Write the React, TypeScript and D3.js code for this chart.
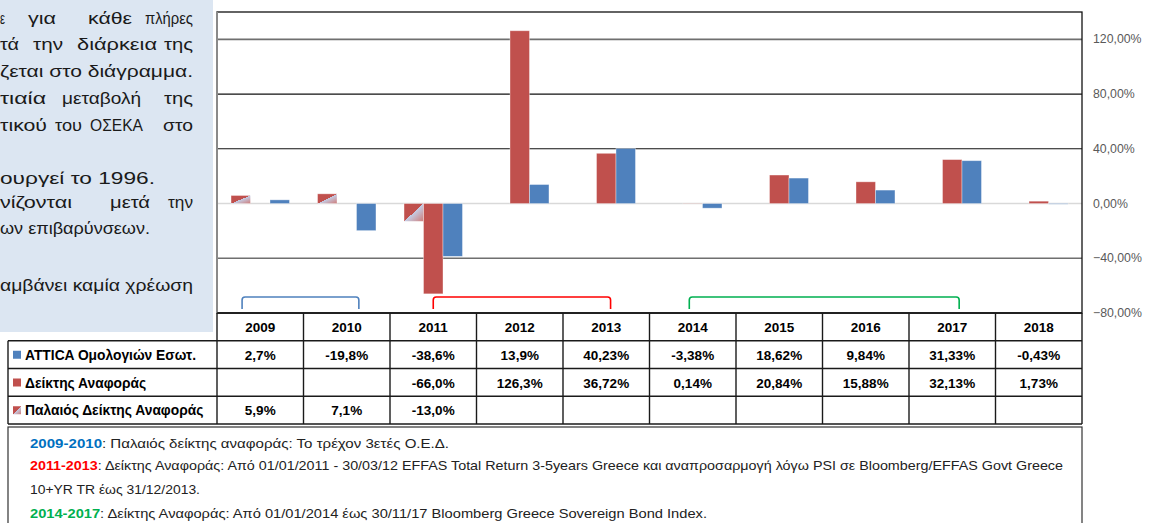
import React from "react";
import * as d3 from "d3";

// categories + series (values in %)
const years = ["2009", "2010", "2011", "2012", "2013", "2014", "2015", "2016", "2017", "2018"];
const fundValues = [2.7, -19.8, -38.6, 13.9, 40.23, -3.38, 18.62, 9.84, 31.33, -0.43];
const indexValues: (number | null)[] = [null, null, -66.0, 126.3, 36.72, 0.14, 20.84, 15.88, 32.13, 1.73];
const oldIndexValues: (number | null)[] = [5.9, 7.1, -13.0, null, null, null, null, null, null, null];

// table text as printed
const fundText = ["2,7%", "-19,8%", "-38,6%", "13,9%", "40,23%", "-3,38%", "18,62%", "9,84%", "31,33%", "-0,43%"];
const indexText = ["", "", "-66,0%", "126,3%", "36,72%", "0,14%", "20,84%", "15,88%", "32,13%", "1,73%"];
const oldIndexText = ["5,9%", "7,1%", "-13,0%", "", "", "", "", "", "", ""];

const yTicks = [-80, -40, 0, 40, 80, 120];

const seriesNames = ["ATTICA Ομολογιών Εσωτ.", "Δείκτης Αναφοράς", "Παλαιός Δείκτης Αναφοράς"];

// benchmark periods (brackets under the bars)
const periods = [
  { from: "2009", to: "2010", color: "#4f81bd" },
  { from: "2011", to: "2013", color: "#ff0000" },
  { from: "2014", to: "2017", color: "#00b050" },
];

const notes = [
  { tag: "2009-2010", color: "#0070c0", text: ": Παλαιός δείκτης αναφοράς: Το τρέχον 3ετές Ο.Ε.Δ." },
  {
    tag: "2011-2013",
    color: "#ff0000",
    text: ": Δείκτης Αναφοράς: Από 01/01/2011 - 30/03/12 EFFAS Total Return 3-5years Greece και αναπροσαρμογή λόγω PSI σε Bloomberg/EFFAS Govt Greece",
  },
  { tag: "", color: "#000", text: "10+YR TR έως 31/12/2013." },
  {
    tag: "2014-2017",
    color: "#00b050",
    text: ": Δείκτης Αναφοράς: Από 01/01/2014 έως 30/11/17 Bloomberg Greece Sovereign Bond Index.",
  },
];

// side text (left panel, clipped by the page edge)
const sideLines: { y: number; words: [string, number, number][] }[] = [
  { y: 24, words: [["ε", 0, 5], ["για", 28, 56], ["κάθε", 88, 132], ["πλήρες", 145, 193]] },
  { y: 50, words: [["τά", 0, 19], ["την", 33, 63], ["διάρκεια", 77, 157], ["της", 164, 193]] },
  { y: 77, words: [["ζεται στο διάγραμμα.", 0, 193]] },
  { y: 104, words: [["τιαία", 0, 46], ["μεταβολή", 62, 141], ["της", 164, 193]] },
  { y: 131, words: [["τικού", 0, 47], ["του", 55, 82], ["ΟΣΕΚΑ", 90, 143], ["στο", 163, 193]] },
  { y: 184, words: [["ουργεί το 1996.", 0, 155]] },
  { y: 208, words: [["νίζονται", 0, 72], ["μετά", 110, 150], ["την", 168, 193]] },
  { y: 234, words: [["ων επιβαρύνσεων.", 0, 150]] },
  { y: 291, words: [["αμβάνει καμία χρέωση", 0, 193]] },
];

const BLUE = "#4f81bd";
const RED = "#c0504d";
const FONT = "'Liberation Sans', Arial, sans-serif";

const W = 1157;
const H = 523;
const plot = { left: 217, right: 1082, top: 12, bottom: 313 };
const rowH = 27.75;

const App = () => {
  const x = d3.scaleBand<string>().domain(years).range([plot.left, plot.right]);
  const bw = x.bandwidth();
  const inner = d3
    .scaleBand<string>()
    .domain(["old", "index", "fund"])
    .range([0, bw])
    .paddingOuter(0.72);
  const y = d3.scaleLinear().domain([-80, 140]).range([plot.bottom, plot.top]);
  const fmt = (v: number) => d3.format(".2f")(v).replace(".", ",") + "%";

  const bars = [
    { key: "old", values: oldIndexValues, fill: "url(#oldGrad)" },
    { key: "index", values: indexValues, fill: RED },
    { key: "fund", values: fundValues as (number | null)[], fill: BLUE },
  ];

  const rowTops = d3.range(5).map((i) => plot.bottom + i * rowH);
  const tableRows = [
    { name: seriesNames[0], texts: fundText, fill: BLUE },
    { name: seriesNames[1], texts: indexText, fill: RED },
    { name: seriesNames[2], texts: oldIndexText, fill: "url(#oldGrad)" },
  ];

  const gridStyle = (t: number) => {
    if (t === 0) return { stroke: "#d9d9d9", w: 1.5 };
    if (t === 120 || t === -40) return { stroke: "#6f6f6f", w: 1.6 };
    return { stroke: "#111", w: 1.1 };
  };

  const bracketPath = (x0: number, x1: number) => {
    const top = 297;
    const bot = 309;
    const r = 3;
    return `M${x0},${bot} L${x0},${top + r} Q${x0},${top} ${x0 + r},${top} L${x1 - r},${top} Q${x1},${top} ${x1},${top + r} L${x1},${bot}`;
  };
  const bracketFrac = [
    [0.29, 0.64],
    [0.5, 0.55],
    [0.46, 0.58],
  ];

  return (
    <div style={{ position: "absolute", left: 0, top: 0 }}>
      <svg width={W} height={H} style={{ display: "block", background: "#fff" }} fontFamily={FONT}>
        <defs>
          <linearGradient id="oldGrad" x1="0" y1="0" x2="1" y2="1">
            <stop offset="0" stopColor={RED} />
            <stop offset="0.5" stopColor={RED} />
            <stop offset="0.5" stopColor="#c3cde6" />
            <stop offset="1" stopColor="#cf7b78" />
          </linearGradient>
        </defs>

        {/* left info panel */}
        <rect x={0} y={0} width={213} height={332} fill="#dce6f2" />
        {sideLines.map((ln, i) =>
          ln.words.map(([w, x0, x1], j) => (
            <text
              key={`s${i}-${j}`}
              x={x0}
              y={ln.y}
              fontSize={16}
              fill="#1a1a1a"
              textLength={x1 - x0}
              lengthAdjust="spacingAndGlyphs"
            >
              {w}
            </text>
          ))
        )}

        {/* gridlines */}
        {yTicks.map((t) => {
          const s = gridStyle(t);
          return (
            <line key={`g${t}`} x1={plot.left} x2={plot.right} y1={y(t)} y2={y(t)} stroke={s.stroke} strokeWidth={s.w} />
          );
        })}

        {/* bars */}
        {bars.map((s) =>
          s.values.map((v, i) =>
            v == null ? null : (
              <rect
                key={`${s.key}${i}`}
                x={(x(years[i]) as number) + (inner(s.key) as number)}
                y={y(Math.max(0, v))}
                width={inner.bandwidth()}
                height={Math.abs(y(v) - y(0))}
                fill={s.fill}
                stroke="#fff"
                strokeOpacity={0.45}
                strokeWidth={0.8}
              />
            )
          )
        )}

        {/* plot frame */}
        <rect
          x={plot.left}
          y={plot.top}
          width={plot.right - plot.left}
          height={plot.bottom - plot.top}
          fill="none"
          stroke="#111"
          strokeWidth={1.3}
        />
        <line x1={plot.left} x2={plot.left} y1={plot.top} y2={plot.bottom} stroke="#8a8a8a" strokeWidth={2} />

        {/* right axis labels */}
        {yTicks.map((t) => (
          <text key={`yl${t}`} x={1093} y={y(t) + 4} fontSize={12.3} fill="#595959">
            {fmt(t)}
          </text>
        ))}

        {/* period brackets */}
        {periods.map((p, i) => (
          <path
            key={`b${i}`}
            d={bracketPath(
              (x(p.from) as number) + bw * bracketFrac[i][0],
              (x(p.to) as number) + bw * bracketFrac[i][1]
            )}
            fill="none"
            stroke={p.color}
            strokeWidth={1.6}
          />
        ))}

        {/* data table */}
        <g stroke="#1a1a1a" strokeWidth={1.4}>
          {rowTops.map((ty, i) => (
            <line key={`h${i}`} x1={i === 0 ? plot.left : 8} x2={plot.right} y1={ty} y2={ty} />
          ))}
          <line x1={8} x2={8} y1={rowTops[1]} y2={rowTops[4]} />
          {years.map((yr) => (
            <line key={`v${yr}`} x1={x(yr)} x2={x(yr)} y1={rowTops[0]} y2={rowTops[4]} />
          ))}
          <line x1={plot.right} x2={plot.right} y1={rowTops[0]} y2={rowTops[4]} />
        </g>
        {years.map((yr) => (
          <text
            key={`yr${yr}`}
            x={(x(yr) as number) + bw / 2}
            y={rowTops[0] + 19}
            textAnchor="middle"
            fontSize={13.5}
            fontWeight="bold"
            fill="#000"
          >
            {yr}
          </text>
        ))}
        {tableRows.map((r, ri) => (
          <g key={`r${ri}`}>
            <rect x={13} y={rowTops[ri + 1] + 10} width={8} height={8} fill={r.fill} />
            <text x={25} y={rowTops[ri + 1] + 19} fontSize={13.8} fontWeight="bold" fill="#000">
              {r.name}
            </text>
            {r.texts.map((t, i) => (
              <text
                key={`c${ri}-${i}`}
                x={(x(years[i]) as number) + bw / 2}
                y={rowTops[ri + 1] + 19}
                textAnchor="middle"
                fontSize={13.5}
                fontWeight="bold"
                fill="#000"
              >
                {t}
              </text>
            ))}
          </g>
        ))}

        {/* notes box */}
        <rect x={8} y={427} width={plot.right - 8} height={120} fill="none" stroke="#333" strokeWidth={1.2} />
        {notes.map((n, i) => {
          const ends = [449, 1063, 200, 707];
          const ys = [448, 470, 494, 518];
          return (
            <text
              key={`n${i}`}
              x={30}
              y={ys[i]}
              fontSize={13}
              fill="#222"
              textLength={ends[i] - 30}
              lengthAdjust="spacingAndGlyphs"
            >
              {n.tag && (
                <tspan fill={n.color} fontWeight="bold">
                  {n.tag}
                </tspan>
              )}
              {n.text}
            </text>
          );
        })}
      </svg>
    </div>
  );
};

export default App;
